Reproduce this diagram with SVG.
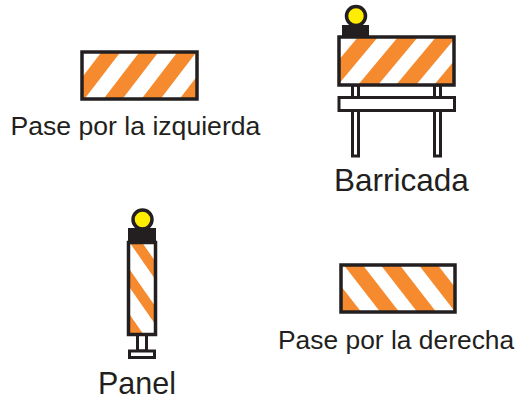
<svg xmlns="http://www.w3.org/2000/svg" width="525" height="400" viewBox="0 0 525 400">
<style>
text{font-family:"Liberation Sans",Arial,sans-serif;fill:#231f20}
.frame{fill:none;stroke:#231f20;stroke-width:3.5}
.white{fill:#fff;stroke:#231f20;stroke-width:3}
.o{fill:#f58a2e}
.lamp{fill:#ffed00;stroke:#231f20;stroke-width:3.5}
.k{fill:#231f20}
</style>
<defs>
<clipPath id="c1"><rect x="82" y="52" width="115" height="47"/></clipPath>
<clipPath id="c2"><rect x="339" y="36" width="115" height="49"/></clipPath>
<clipPath id="c3"><rect x="128" y="242" width="28" height="93"/></clipPath>
<clipPath id="c4"><rect x="340" y="264" width="116" height="48"/></clipPath>
</defs>
<g id="pase-izquierda">
<rect x="82" y="52" width="115" height="47" fill="#fff"/>
<g clip-path="url(#c1)" class="o">
<polygon points="103,50 122,50 83,101 64,101"/>
<polygon points="141,50 160,50 121,101 102,101"/>
<polygon points="179,50 198,50 159,101 140,101"/>
<polygon points="217,50 236,50 197,101 178,101"/>
</g>
<rect class="frame" x="82" y="52" width="115" height="47"/>
<text x="10.500" y="135" font-size="26.600">Pase por la izquierda</text>
</g>
<g id="barricada">
<rect class="white" x="352.500" y="85" width="6" height="13"/>
<rect class="white" x="434.500" y="85" width="6" height="13"/>
<rect class="white" x="352.500" y="110" width="6" height="46"/>
<rect class="white" x="434.500" y="110" width="6" height="46"/>
<rect class="white" x="339" y="97.500" width="115.500" height="13"/>
<rect class="k" x="342" y="25" width="27" height="11"/>
<circle class="lamp" cx="356" cy="16" r="9.500"/>
<rect x="339" y="37" width="115" height="48" fill="#fff"/>
<g clip-path="url(#c2)" class="o">
<polygon points="358,37 378,37 338,85 318,85"/>
<polygon points="398,37 418,37 378,85 358,85"/>
<polygon points="436,37 456,37 416,85 396,85"/>
<polygon points="474,37 494,37 454,85 434,85"/>
</g>
<rect class="frame" x="339" y="37" width="115" height="48"/>
<text x="334" y="191" font-size="31.500">Barricada</text>
</g>
<g id="panel">
<rect class="white" x="137.500" y="334" width="9" height="17"/>
<rect class="white" x="129.500" y="351" width="25" height="6.500"/>
<rect class="k" x="128" y="228" width="28" height="14"/>
<circle class="lamp" cx="142.500" cy="219.500" r="9.500"/>
<rect x="128.500" y="242.500" width="27" height="92" fill="#fff"/>
<g clip-path="url(#c3)" class="o">
<polygon points="130,225 130,243 155,279 155,261"/>
<polygon points="130,270 130,288 155,324 155,306"/>
<polygon points="130,315 130,333 155,369 155,351"/>
</g>
<rect class="frame" x="128.500" y="242.500" width="27" height="92"/>
<text x="98" y="393.500" font-size="30.500">Panel</text>
</g>
<g id="pase-derecha">
<rect x="341" y="265" width="114" height="47" fill="#fff"/>
<g clip-path="url(#c4)" class="o">
<polygon points="305,264 324,264 362,313 343,313"/>
<polygon points="343,264 362,264 400,313 381,313"/>
<polygon points="380,264 399,264 437,313 418,313"/>
<polygon points="418,264 437,264 475,313 456,313"/>
</g>
<rect class="frame" x="341" y="265" width="114" height="47"/>
<text x="278" y="349" font-size="26.400">Pase por la derecha</text>
</g>
<g id="connectors"/>
</svg>
